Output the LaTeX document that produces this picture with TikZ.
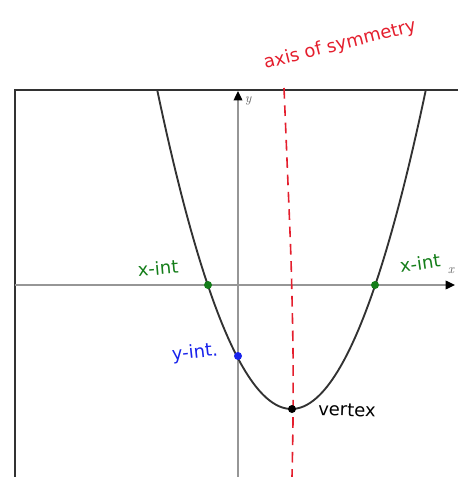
\documentclass[tikz,border=0pt]{standalone}
\usepackage{fontspec}
\usetikzlibrary{arrows.meta, positioning}
\newfontfamily\handfont{DejaVu Sans}
\definecolor{symred}{RGB}{228, 30, 45}
\definecolor{intgreen}{RGB}{20, 125, 25}
\definecolor{yintblue}{RGB}{25, 35, 235}
\definecolor{framegray}{RGB}{50, 50, 50}
\definecolor{axisgray}{RGB}{150, 150, 150}

\begin{document}
\begin{tikzpicture}[
  x=0.75pt, y=-0.75pt,
  frame/.style={draw=framegray, line width=1.3pt},
  axis/.style={draw=axisgray, line width=1pt,
    -{Triangle[color=black, length=7pt, width=6.5pt]}},
  curve/.style={draw=framegray, line width=1.4pt},
  symline/.style={draw=symred, line width=1.2pt, dash pattern=on 8pt off 5pt},
  dot/.style={circle, fill=#1, inner sep=0pt, minimum size=6pt},
  note/.style={font=\handfont\fontsize{13.5}{15}\selectfont, text=#1, inner sep=1pt},
  axlabel/.style={font=\normalsize\itshape, text=black!60, inner sep=1pt}
]
\useasboundingbox (0,0) rectangle (458,477);

% ── Frame and axes ────────────────────────────────────────────────────────────
\draw[frame] (15,477) -- (15,90) -- (458,90);
\draw[axis] (15,285) -- (455,285);
\draw[axis] (238,477) -- (238,91);
\node[axlabel] (xlab) at (451,271) {x};
\node[axlabel] (ylab) at (248,101) {y};

% ── Parabola and axis of symmetry ─────────────────────────────────────────────
\begin{scope}
  \clip (15,90) rectangle (458,477);
  \draw[curve] plot[domain=-135:135, samples=80] (\x+291.5, {409-(0.133*\x)^2});
\end{scope}
\draw[symline] plot[smooth] coordinates
  {(284,88) (287,160) (291,260) (293,350) (293,420) (292,477)};

% ── Special points ────────────────────────────────────────────────────────────
\node[dot=intgreen]  (xintL) at (208,285) {};
\node[dot=intgreen]  (xintR) at (375,285) {};
\node[dot=yintblue]  (yint)  at (238,356) {};
\node[dot=black]     (vtx)   at (292,409) {};

% ── Hand-written labels ───────────────────────────────────────────────────────
\node[note=symred, rotate=14] (symlab) at (340,45) {axis of symmetry};
\node[note=intgreen, rotate=5]  (xintLlab) at (158,268) {x-int};
\node[note=intgreen, rotate=8]  (xintRlab) at (420,263) {x-int};
\node[note=yintblue, rotate=6]  (yintlab)  at (195,353) {y-int.};
\node[note=black, rotate=-2]    (vtxlab)   at (347,410) {vertex};

\end{tikzpicture}
\end{document}
